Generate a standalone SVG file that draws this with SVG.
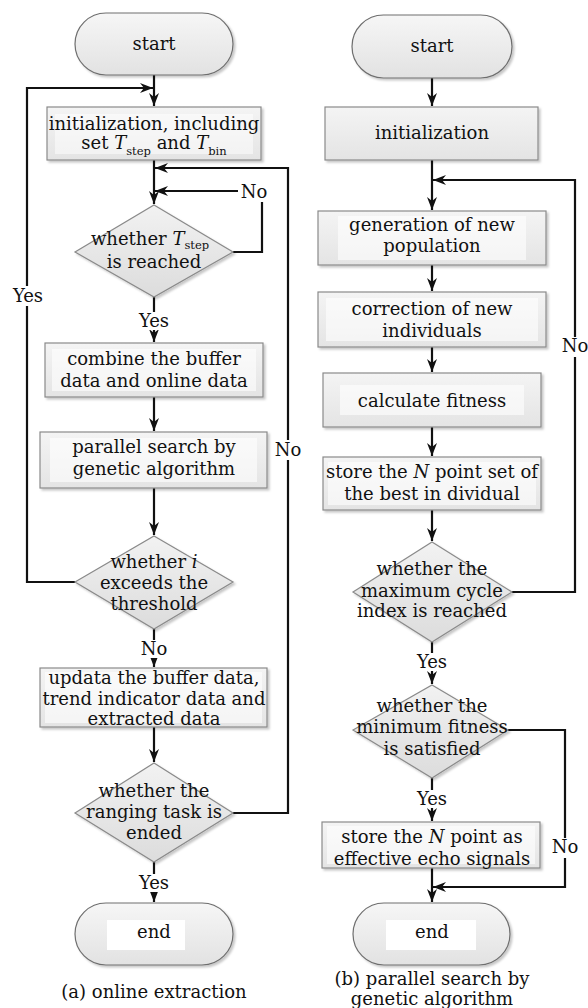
<svg xmlns="http://www.w3.org/2000/svg" width="588" height="1008" viewBox="0 0 588 1008">
<style>
text{font-family:"DejaVu Serif","Liberation Serif",serif;font-size:18px;fill:#111;text-anchor:middle}
.box{fill:url(#gBox);stroke:#8a8a8a;stroke-width:1.2;filter:url(#sh)}
.dia{fill:url(#gDia);stroke:#8a8a8a;stroke-width:1.2;filter:url(#sh)}
.term{fill:url(#gTerm);stroke:#6e6e6e;stroke-width:1.2;filter:url(#sh)}
.tb{fill:#ffffff}
.ln{fill:none;stroke:#111;stroke-width:2.2}
.ar{fill:none;stroke:#111;stroke-width:2.2;marker-end:url(#ah)}
.lbl{fill:#ffffff}
.it{font-style:italic}
.sub{font-size:11.5px}
</style>
<defs>
<linearGradient id="gBox" x1="0" y1="0" x2="0" y2="1"><stop offset="0" stop-color="#f4f4f4"/><stop offset="1" stop-color="#e4e4e4"/></linearGradient>
<linearGradient id="gDia" x1="0" y1="0" x2="0" y2="1"><stop offset="0" stop-color="#f2f2f2"/><stop offset="1" stop-color="#dcdcdc"/></linearGradient>
<linearGradient id="gTerm" x1="0" y1="0" x2="0" y2="1"><stop offset="0" stop-color="#f6f6f6"/><stop offset="1" stop-color="#e2e2e2"/></linearGradient>
<filter id="sh" x="-10%" y="-10%" width="125%" height="130%"><feDropShadow dx="2" dy="2" stdDeviation="1.2" flood-color="#000" flood-opacity="0.22"/></filter>
<marker id="ah" markerWidth="14" markerHeight="10" refX="13" refY="5" orient="auto" markerUnits="userSpaceOnUse"><path d="M13,5 L0,0 L4,5 L0,10 Z" fill="#111"/></marker>
</defs>

<g id="connectors">
<!-- left column -->
<path class="ar" d="M154,75 V106"/>
<path class="ar" d="M75,582 H27 V88 H153"/>
<path class="ar" d="M154,160 V204"/>
<path class="ln" d="M233,252 H262 V202"/>
<path class="ar" d="M238,191 H155"/>
<path class="ar" d="M233,813 H288 V168 H155"/>
<path class="ar" d="M154,297 V342"/>
<path class="ar" d="M154,397 V431"/>
<path class="ar" d="M154,488 V535"/>
<path class="ar" d="M154,629 V667"/>
<path class="ar" d="M154,727 V762"/>
<path class="ar" d="M154,862 V902"/>
<!-- right column -->
<path class="ar" d="M432,78 V106"/>
<path class="ar" d="M432,160 V210"/>
<path class="ar" d="M512,592 H575 V180 H433"/>
<path class="ar" d="M432,265 V291"/>
<path class="ar" d="M432,347 V372"/>
<path class="ar" d="M432,427 V456"/>
<path class="ar" d="M432,510 V541"/>
<path class="ar" d="M432,642 V684"/>
<path class="ar" d="M508,730 H565 V887 H433"/>
<path class="ar" d="M432,778 V821"/>
<path class="ar" d="M432,868 V902"/>
<!-- labels -->
<rect class="lbl" x="11" y="286" width="34" height="20"/><text x="28" y="302">Yes</text>
<text x="254" y="198">No</text>
<rect class="lbl" x="137" y="312" width="34" height="18"/><text x="154" y="327">Yes</text>
<rect class="lbl" x="275" y="440" width="27" height="20"/><text x="288" y="456">No</text>
<rect class="lbl" x="140" y="640" width="28" height="18"/><text x="154" y="655">No</text>
<rect class="lbl" x="137" y="874" width="34" height="18"/><text x="154" y="889">Yes</text>
<rect class="lbl" x="561" y="337" width="27" height="20"/><text x="575" y="352">No</text>
<rect class="lbl" x="415" y="653" width="34" height="18"/><text x="432" y="668">Yes</text>
<rect class="lbl" x="551" y="838" width="28" height="20"/><text x="565" y="853">No</text>
<rect class="lbl" x="415" y="790" width="34" height="18"/><text x="432" y="805">Yes</text>
</g>

<!-- left column nodes -->
<g id="a-start"><rect class="term" x="75" y="13" width="158" height="62" rx="31"/><text x="154" y="50">start</text></g>
<g id="a-init"><rect class="box" x="47" y="107" width="214" height="53"/><rect class="tb" x="55" y="114" width="198" height="40" opacity="0.5"/>
<text x="154" y="130">initialization, including</text>
<text x="154" y="149">set <tspan class="it">T</tspan><tspan class="sub" dy="6">step</tspan><tspan dy="-6"> and </tspan><tspan class="it">T</tspan><tspan class="sub" dy="6">bin</tspan></text></g>
<g id="a-dec1"><polygon class="dia" points="154,205 233,252 154,297 75,252"/>
<text x="150" y="245">whether <tspan class="it">T</tspan><tspan class="sub" dy="4">step</tspan></text>
<text x="154" y="268">is reached</text></g>
<g id="a-combine"><rect class="box" x="45" y="343" width="218" height="54"/><rect class="tb" x="52" y="349" width="204" height="42" opacity="0.6"/>
<text x="154" y="365">combine the buffer</text><text x="154" y="387">data and online data</text></g>
<g id="a-parallel"><rect class="box" x="40" y="432" width="227" height="56"/><rect class="tb" x="50" y="438" width="207" height="44" opacity="0.6"/>
<text x="154" y="453">parallel search by</text><text x="154" y="475">genetic algorithm</text></g>
<g id="a-dec2"><polygon class="dia" points="154,536 233,582 154,629 75,582"/>
<text x="154" y="568">whether <tspan class="it">i</tspan></text>
<text x="154" y="589">exceeds the</text><text x="154" y="610">threshold</text></g>
<g id="a-update"><rect class="box" x="40" y="668" width="227" height="59"/><rect class="tb" x="45" y="672" width="217" height="51" opacity="0.6"/>
<text x="154" y="684">updata the buffer data,</text><text x="154" y="705">trend indicator data and</text><text x="154" y="725">extracted data</text></g>
<g id="a-dec3"><polygon class="dia" points="154,763 233,813 154,862 75,813"/>
<text x="154" y="797">whether the</text><text x="154" y="818">ranging task is</text><text x="154" y="839">ended</text></g>
<g id="a-end"><rect class="term" x="75" y="903" width="158" height="62" rx="31"/><rect class="tb" x="107" y="920" width="78" height="30"/><text x="154" y="938">end</text></g>
<text x="154" y="998">(a) online extraction</text>

<!-- right column nodes -->
<g id="b-start"><rect class="term" x="352" y="15" width="160" height="63" rx="31.5"/><text x="432" y="52">start</text></g>
<g id="b-init"><rect class="box" x="325" y="107" width="213" height="53"/><text x="432" y="139">initialization</text></g>
<g id="b-gen"><rect class="box" x="318" y="211" width="228" height="54"/><rect class="tb" x="338" y="216" width="188" height="44" opacity="0.6"/>
<text x="432" y="231">generation of new</text><text x="432" y="252">population</text></g>
<g id="b-corr"><rect class="box" x="318" y="292" width="228" height="55"/><rect class="tb" x="326" y="298" width="212" height="43" opacity="0.6"/>
<text x="432" y="315">correction of new</text><text x="432" y="337">individuals</text></g>
<g id="b-calc"><rect class="box" x="323" y="373" width="218" height="54"/><rect class="tb" x="340" y="385" width="184" height="30" opacity="0.6"/>
<text x="432" y="407">calculate fitness</text></g>
<g id="b-store"><rect class="box" x="323" y="457" width="218" height="53"/><rect class="tb" x="328" y="462" width="208" height="43" opacity="0.6"/>
<text x="432" y="478">store the <tspan class="it">N</tspan> point set of</text><text x="432" y="500">the best in dividual</text></g>
<g id="b-dec4"><polygon class="dia" points="432,542 512,592 432,642 353,592"/>
<text x="432" y="575">whether the</text><text x="432" y="597">maximum cycle</text><text x="432" y="617">index is reached</text></g>
<g id="b-dec5"><polygon class="dia" points="432,685 508,730 432,778 353,730"/>
<text x="432" y="712">whether the</text><text x="432" y="733">minimum fitness</text><text x="432" y="755">is satisfied</text></g>
<g id="b-store2"><rect class="box" x="322" y="822" width="218" height="46"/><rect class="tb" x="327" y="826" width="208" height="38" opacity="0.6"/>
<text x="432" y="843">store the <tspan class="it">N</tspan> point as</text><text x="432" y="865">effective echo signals</text></g>
<g id="b-end"><rect class="term" x="353" y="903" width="157" height="62" rx="31"/><rect class="tb" x="386" y="920" width="90" height="30"/><text x="432" y="938">end</text></g>
<text x="432" y="985">(b) parallel search by</text>
<text x="432" y="1005">genetic algorithm</text>
</svg>
